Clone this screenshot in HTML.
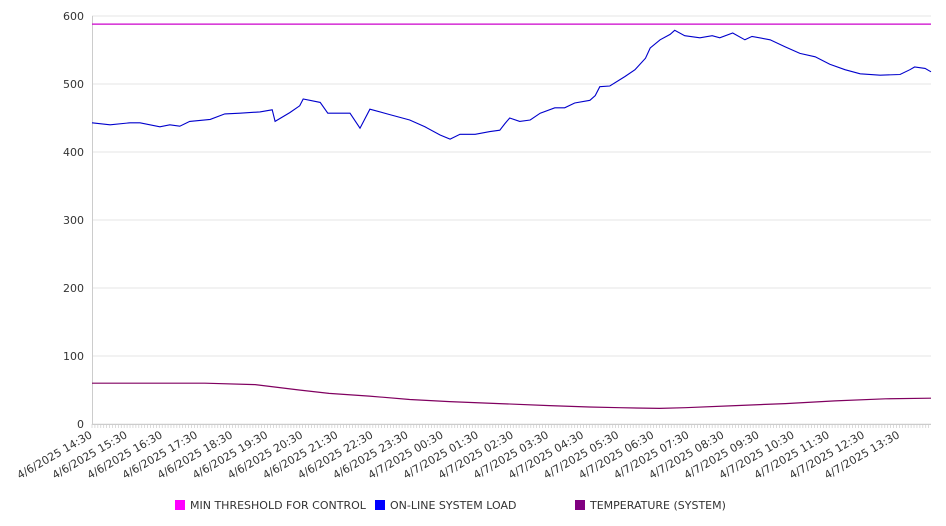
<!DOCTYPE html>
<html><head><meta charset="utf-8"><style>
html,body{margin:0;padding:0;background:#fff;}
svg{display:block;font-family:"DejaVu Sans","Liberation Sans",sans-serif;}
</style></head><body>
<svg id="chart" width="946" height="526" viewBox="0 0 946 526" xmlns="http://www.w3.org/2000/svg">
<g id="grid"></g>
<g id="yaxis"></g>
<g id="xaxis"></g>
<g id="series"></g>
<g id="legend">
  <g><rect x="175" y="500" width="10" height="10" fill="#ff00ff"/><text x="190" y="509" font-size="11" fill="#333">MIN THRESHOLD FOR CONTROL</text></g>
  <g><rect x="375" y="500" width="10" height="10" fill="#0000ff"/><text x="390" y="509" font-size="11" fill="#333">ON-LINE SYSTEM LOAD</text></g>
  <g><rect x="575" y="500" width="10" height="10" fill="#800080"/><text x="590" y="509" font-size="11" fill="#333">TEMPERATURE (SYSTEM)</text></g>
</g>
</svg>
<script>
// minutes after 4/6/2025 14:30
const loadMinutes = [0,31,65,82,116,133,150,167,202,227,253,287,308,313,338,355,361,390,403,424,441,458,475,509,543,569,595,612,629,655,680,697,706,714,731,749,766,791,808,825,851,860,868,885,911,928,946,954,971,988,996,1013,1039,1060,1073,1095,1116,1128,1159,1184,1210,1236,1261,1287,1313,1347,1381,1398,1406,1424,1434];
const loadValues = [443,440,443,443,437,440,438,445,448,456,457,459,462,445,458,468,478,473,457,457,457,435,463,455,447,437,425,419,426,426,430,432,442,450,445,447,457,465,465,472,476,483,496,497,511,521,538,553,565,573,579,571,568,571,568,575,565,570,565,555,545,540,529,521,515,513,514,521,525,523,518];
const tempMinutes = [0,193,279,354,405,474,543,611,696,782,850,902,970,1014,1100,1185,1270,1356,1434];
const tempValues = [60,60,58,50,45,41,36,33,30,27,25,24,23,24,27,30,34,37,38];
const thresholdValue = 588;
const yTicks = [0,100,200,300,400,500,600];
const xTickLabels = ["4/6/2025 14:30","4/6/2025 15:30","4/6/2025 16:30","4/6/2025 17:30","4/6/2025 18:30","4/6/2025 19:30","4/6/2025 20:30","4/6/2025 21:30","4/6/2025 22:30","4/6/2025 23:30","4/7/2025 00:30","4/7/2025 01:30","4/7/2025 02:30","4/7/2025 03:30","4/7/2025 04:30","4/7/2025 05:30","4/7/2025 06:30","4/7/2025 07:30","4/7/2025 08:30","4/7/2025 09:30","4/7/2025 10:30","4/7/2025 11:30","4/7/2025 12:30","4/7/2025 13:30"];

const X0=92, X1=931, Y0=424, Y1=16, MAXMIN=1434;
const xs = m => X0 + m*(X1-X0)/MAXMIN;
const ys = v => Y0 - v*(Y0-Y1)/600;
const NS="http://www.w3.org/2000/svg";
function mk(tag, parent, attrs){const e=document.createElementNS(NS,tag);for(const k in attrs)e.setAttribute(k,attrs[k]);parent.appendChild(e);return e;}
const grid=document.getElementById('grid'), yaxis=document.getElementById('yaxis'), xaxis=document.getElementById('xaxis'), series=document.getElementById('series');

yTicks.forEach(v=>{
  const l=mk('line',grid,{x1:X0,x2:X1,y1:ys(v),y2:ys(v),stroke:'#e6e6e6','stroke-width':1});
  
  
  const t=mk('text',yaxis,{x:84,y:ys(v)+4,'text-anchor':'end','font-size':11,fill:'#333'});
  t.textContent=v;
  
  
});
const ya=mk('line',yaxis,{x1:X0+0.5,x2:X0+0.5,y1:Y1,y2:Y0,stroke:'#ccc'});


const xa=mk('line',xaxis,{x1:X0,x2:X1,y1:Y0+0.5,y2:Y0+0.5,stroke:'#ccc'});


for(let m=0;m<=MAXMIN;m+=5){
  const tk=mk('line',xaxis,{x1:xs(m),x2:xs(m),y1:Y0,y2:Y0+4,stroke:'#ccc','stroke-width':0.7});
  
  
}
xTickLabels.forEach((s,i)=>{
  const x=xs(i*60)+1;
  const t=mk('text',xaxis,{x:x,y:Y0+13,'text-anchor':'end','font-size':11,fill:'#333',transform:`rotate(-30 ${x} ${Y0+13})`});
  t.textContent=s;
  
  
});
function path(ms,vs){return ms.map((m,i)=>(i?'L':'M')+xs(m).toFixed(1)+','+ys(vs[i]).toFixed(1)).join(' ');}
const th=mk('line',series,{x1:X0,x2:X1,y1:ys(thresholdValue),y2:ys(thresholdValue),stroke:'#cc00cc','stroke-width':1.2});


const tp=mk('path',series,{d:path(tempMinutes,tempValues),fill:'none',stroke:'#800060','stroke-width':1.2});


const lp=mk('path',series,{d:path(loadMinutes,loadValues),fill:'none',stroke:'#0000cc','stroke-width':1.1});


</script>
</body></html>
